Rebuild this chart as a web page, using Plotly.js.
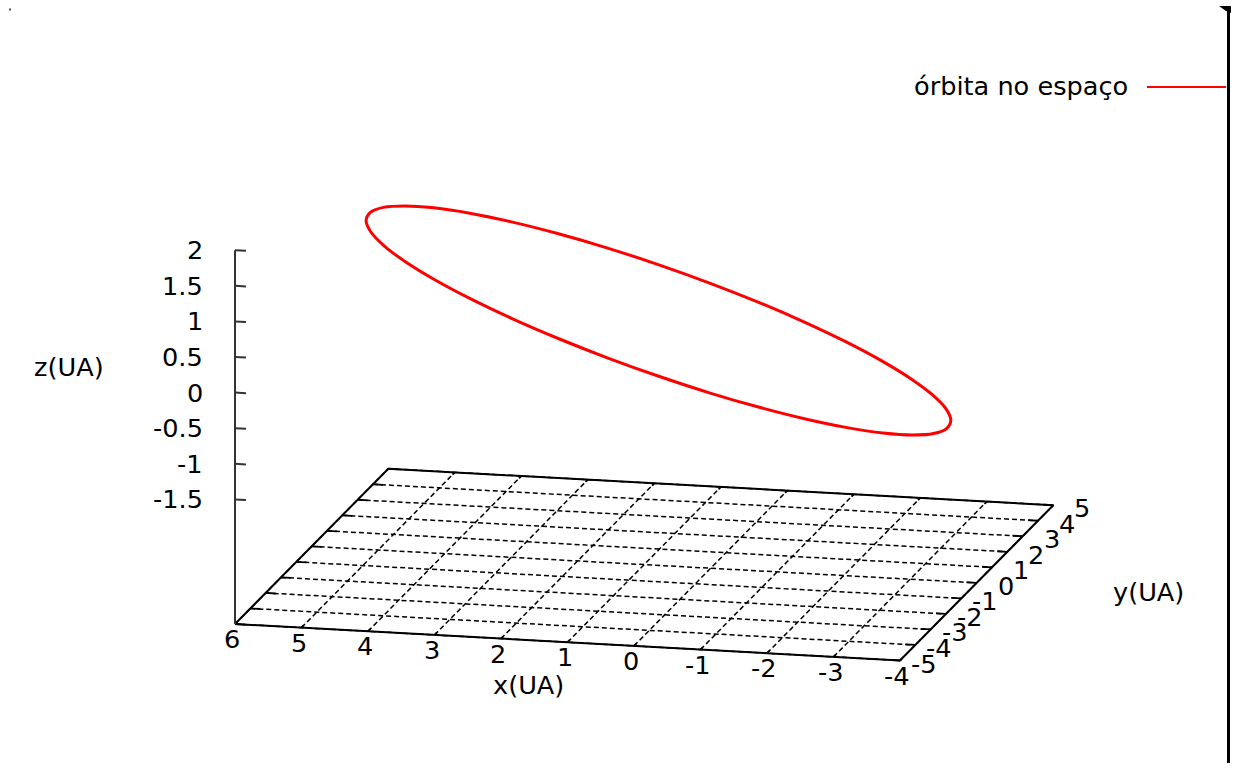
<!DOCTYPE html>
<html>
<head>
<meta charset="utf-8">
<script src="https://cdn.plot.ly/plotly-3.0.1.min.js"></script>
<style>
  html, body { margin: 0; padding: 0; background: #ffffff; }
  #chart { width: 1234px; height: 773px; }
</style>
</head>
<body>
<div id="chart"></div>
<script>
// Orbit samples in astronomical units (UA)
const orbitX = [1.693, 0.973, 0.247, -0.468, -1.146, -1.767, -2.315, -2.771, -3.121, -3.355, -3.466, -3.451,
                -3.309, -3.045, -2.668, -2.188, -1.621, -0.983, -0.295, 0.425, 1.151, 1.866, 2.544, 3.165,
                3.713, 4.169, 4.519, 4.753, 4.864, 4.849, 4.707, 4.443, 4.066, 3.586, 3.019, 2.381];
const orbitY = [3.873, 4.066, 4.125, 4.046, 3.834, 3.494, 3.036, 2.475, 1.827, 1.112, 0.353, -0.429,
                -1.210, -1.964, -2.670, -3.307, -3.854, -4.296, -4.618, -4.811, -4.870, -4.792, -4.579, -4.239,
                -3.781, -3.220, -2.572, -1.857, -1.098, -0.316, 0.464, 1.219, 1.925, 2.562, 3.109, 3.551];
const orbitZ = [0.087, -0.174, -0.421, -0.647, -0.845, -1.009, -1.134, -1.216, -1.253, -1.243, -1.187, -1.087,
                -0.945, -0.766, -0.556, -0.320, -0.066, 0.198, 0.465, 0.726, 0.973, 1.199, 1.397, 1.561,
                1.686, 1.768, 1.805, 1.795, 1.739, 1.639, 1.497, 1.318, 1.108, 0.872, 0.618, 0.354];
const seriesName = 'órbita no espaço';

// Axis ranges and tick values
const xRange = [-4, 6];
const yRange = [-5, 5];
const zRange = [-1.5, 2];
const xTicks = [6, 5, 4, 3, 2, 1, 0, -1, -2, -3, -4];
const yTicks = [-5, -4, -3, -2, -1, 0, 1, 2, 3, 4, 5];
const zTicks = [-1.5, -1, -0.5, 0, 0.5, 1, 1.5, 2];
const xTitle = 'x(UA)';
const yTitle = 'y(UA)';
const zTitle = 'z(UA)';

// Base plane sits below the z range (ticslevel 0.5)
const ticsLevel = 0.5;
const zBase = zRange[0] - ticsLevel * (zRange[1] - zRange[0]);

// Orthographic view: screen position of the (xmax, ymin, zBase) corner and
// the screen step for one unit along each data axis.
const view = {
  origin: [235, 624],
  ex: [-66.5, -3.65],
  ey: [15.33, -15.53],
  ez: [0, -71.2]
};

function project(x, y, z) {
  const dx = x - xRange[1], dy = y - yRange[0], dz = z - zBase;
  return [
    view.origin[0] + dx * view.ex[0] + dy * view.ey[0] + dz * view.ez[0],
    view.origin[1] + dx * view.ex[1] + dy * view.ey[1] + dz * view.ez[1]
  ];
}

// Build a single polyline trace out of many 3D segments
function segments(list) {
  const xs = [], ys = [];
  list.forEach(seg => {
    seg.forEach(p => {
      const s = project(p[0], p[1], p[2]);
      xs.push(s[0]); ys.push(s[1]);
    });
    xs.push(null); ys.push(null);
  });
  return { xs, ys };
}

const FONT = 'DejaVu Sans, Verdana, sans-serif';
const FS = 25.6;

// Dashed grid on the base plane
const gridSegs = [];
xTicks.forEach(xv => gridSegs.push([[xv, yRange[0], zBase], [xv, yRange[1], zBase]]));
yTicks.forEach(yv => gridSegs.push([[xRange[1], yv, zBase], [xRange[0], yv, zBase]]));
const grid = segments(gridSegs);

// Solid border of the base plane
const borderSegs = [[
  [xRange[1], yRange[0], zBase], [xRange[0], yRange[0], zBase],
  [xRange[0], yRange[1], zBase], [xRange[1], yRange[1], zBase],
  [xRange[1], yRange[0], zBase]
]];
const border = segments(borderSegs);

// Tick marks on the base edges
const tickLen = 0.15;
const tickSegs = [];
yTicks.forEach(yv => {
  tickSegs.push([[xRange[1], yv, zBase], [xRange[1] - tickLen, yv, zBase]]);
  tickSegs.push([[xRange[0], yv, zBase], [xRange[0] + tickLen, yv, zBase]]);
});
xTicks.forEach(xv => {
  tickSegs.push([[xv, yRange[0], zBase], [xv, yRange[0] + tickLen, zBase]]);
  tickSegs.push([[xv, yRange[1], zBase], [xv, yRange[1] - tickLen, zBase]]);
});
const ticks = segments(tickSegs);

// Vertical z axis with its ticks
const zAxisSegs = [[[xRange[1], yRange[0], zBase], [xRange[1], yRange[0], zRange[1]]]];
zTicks.forEach(zv => zAxisSegs.push([[xRange[1], yRange[0], zv], [xRange[1] - 0.165, yRange[0], zv]]));
const zAxis = segments(zAxisSegs);

// Orbit path (closed loop)
const orbitSX = [], orbitSY = [];
for (let i = 0; i <= orbitX.length; i++) {
  const k = i % orbitX.length;
  const s = project(orbitX[k], orbitY[k], orbitZ[k]);
  orbitSX.push(s[0]); orbitSY.push(s[1]);
}

const traces = [
  { x: grid.xs, y: grid.ys, mode: 'lines', hoverinfo: 'skip',
    line: { color: '#000000', width: 1.5, dash: '5px,3px' } },
  { x: ticks.xs, y: ticks.ys, mode: 'lines', hoverinfo: 'skip',
    line: { color: '#000000', width: 1.8 } },
  { x: border.xs, y: border.ys, mode: 'lines', hoverinfo: 'skip',
    line: { color: '#000000', width: 2 } },
  { x: zAxis.xs, y: zAxis.ys, mode: 'lines', hoverinfo: 'skip',
    line: { color: '#333333', width: 2 } },
  { x: orbitSX, y: orbitSY, mode: 'lines', name: seriesName,
    line: { color: '#ff0000', width: 3, shape: 'spline', smoothing: 1 } }
];

const annotations = [];
function label(text, x, y, xanchor, yanchor) {
  annotations.push({ text, x, y, xref: 'x', yref: 'y', xanchor, yanchor: yanchor || 'middle',
    showarrow: false, font: { family: FONT, size: FS, color: '#000000' } });
}

zTicks.forEach(zv => {
  const s = project(xRange[1], yRange[0], zv);
  label(String(zv), s[0] - 30, s[1], 'right');
});
xTicks.forEach(xv => {
  const s = project(xv, yRange[0], zBase);
  label(String(xv), s[0] - 3, s[1] + 15, 'center');
});
yTicks.forEach(yv => {
  const s = project(xRange[0], yv, zBase);
  label(String(yv), s[0] + 39, s[1] + 3, 'right');
});

label(xTitle, 528, 685, 'center');
label(yTitle, 1148, 592, 'center');
label(zTitle, 69, 367, 'center');
label(seriesName, 1130, 86, 'right');

const shapes = [
  // legend sample
  { type: 'line', xref: 'x', yref: 'y', x0: 1147, x1: 1226, y0: 87, y1: 87,
    line: { color: '#ff0000', width: 2 } },
  // right frame edge
  { type: 'line', xref: 'x', yref: 'y', x0: 1228.5, x1: 1228.5, y0: 9, y1: 763,
    line: { color: '#000000', width: 3 } },
  { type: 'path', xref: 'x', yref: 'y', path: 'M1219,6 L1231,6 L1231,13 L1226,11 Z',
    fillcolor: '#000000', line: { width: 0 } },
  { type: 'rect', xref: 'x', yref: 'y', x0: 9, x1: 11, y0: 8.5, y1: 10.5,
    fillcolor: '#555555', line: { width: 0 } }
];

const layout = {
  width: 1234, height: 773,
  margin: { l: 0, r: 0, t: 0, b: 0, pad: 0 },
  paper_bgcolor: '#ffffff', plot_bgcolor: '#ffffff',
  showlegend: false,
  xaxis: { range: [0, 1234], visible: false, fixedrange: true },
  yaxis: { range: [773, 0], visible: false, fixedrange: true },
  annotations, shapes
};

Plotly.newPlot('chart', traces, layout, { displayModeBar: false, staticPlot: true });
</script>
</body>
</html>
